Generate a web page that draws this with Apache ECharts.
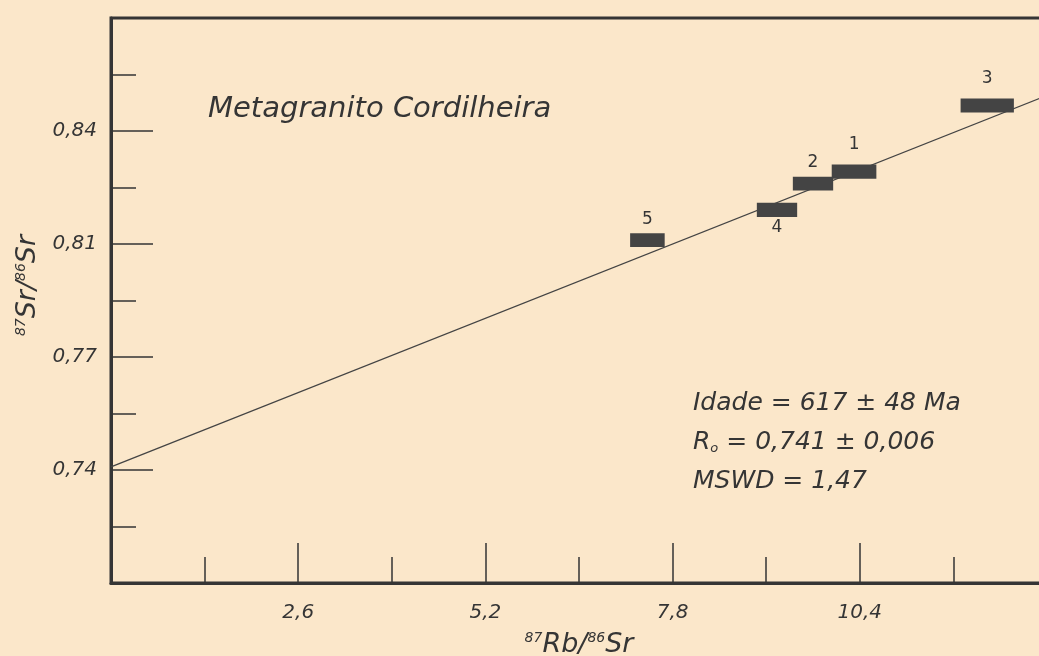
<!DOCTYPE html>
<html>
<head>
<meta charset="utf-8">
<title>Metagranito Cordilheira</title>
<script src="https://cdn.jsdelivr.net/npm/echarts@6/dist/echarts.min.js"></script>
<style>
html, body { margin: 0; padding: 0; background: #fbe7ca; }
#chart { width: 1039px; height: 656px; }
</style>
</head>
<body>
<div id="chart"></div>
<script>
// amostras (caixas de erro)
var amostras = ['1', '2', '3', '4', '5'];
var rbSr = [10.32, 9.75, 12.17, 9.25, 7.45];
var srSr = [0.8324, 0.8287, 0.8529, 0.8206, 0.8112];
var errRb = [0.31, 0.28, 0.37, 0.28, 0.24];
var errSr = [0.0022, 0.0021, 0.0022, 0.0022, 0.0021];
var rotuloAbaixo = ['4'];

// isócrona
var isocrona = [[0, 0.741], [13, 0.856]];

// marcas dos eixos
var xMaior = [2.6, 5.2, 7.8, 10.4, 13];
var xMenor = [1.3, 3.9, 6.5, 9.1, 11.7];
var xRotulos = ['2,6', '5,2', '7,8', '10,4'];
var yMaior = [0.74, 0.775, 0.81, 0.845];
var yMenor = [0.7225, 0.7575, 0.7925, 0.8275, 0.8625];
var yRotulos = ['0,74', '0,77', '0,81', '0,84'];

var fonte = '"DejaVu Sans", sans-serif';
var cor = '#353535';

function rotulo(lista, nomes) {
    return function (v) {
        for (var i = 0; i < lista.length; i++) {
            if (Math.abs(lista[i] - v) < 1e-6) return nomes[i] || '';
        }
        return '';
    };
}

var chart = echarts.init(document.getElementById('chart'));

var caixas = [];
for (var i = 0; i < amostras.length; i++) {
    caixas.push([rbSr[i], srSr[i], errRb[i], errSr[i], amostras[i]]);
}

// a moldura continua além da borda direita da imagem
var grade = { left: 111, top: 18, bottom: 73, right: -8, outerBoundsMode: 'none', containLabel: false };

var option = {
    backgroundColor: '#fbe7ca',
    animation: false,
    grid: [
        Object.assign({ show: true, borderColor: cor, borderWidth: 3 }, grade),
        Object.assign({}, grade)
    ],
    xAxis: [{
        gridIndex: 0, type: 'value', min: 0, max: 13,
        axisLine: { lineStyle: { color: cor, width: 3 } },
        axisTick: { inside: true, length: 26, customValues: xMenor, lineStyle: { color: cor, width: 1.5 } },
        axisLabel: { show: false },
        splitLine: { show: false }
    }, {
        gridIndex: 1, type: 'value', min: 0, max: 13,
        axisLine: { show: false },
        axisTick: { inside: true, length: 40, customValues: xMaior, lineStyle: { color: cor, width: 1.5 } },
        axisLabel: {
            customValues: xMaior.slice(0, 4), margin: 20,
            formatter: rotulo(xMaior, xRotulos),
            color: cor, fontFamily: fonte, fontStyle: 'italic', fontSize: 20
        },
        splitLine: { show: false },
        name: '{s|87}{t|Rb/}{s|86}{t|Sr}',
        nameLocation: 'middle', nameGap: 48,
        nameTextStyle: {
            rich: {
                t: { fontFamily: fonte, fontStyle: 'italic', fontSize: 27, color: cor },
                s: { fontFamily: fonte, fontStyle: 'italic', fontSize: 14, color: cor, verticalAlign: 'top', padding: [0, 0, 10, 0] }
            }
        }
    }],
    yAxis: [{
        gridIndex: 0, type: 'value', min: 0.705, max: 0.88,
        axisLine: { lineStyle: { color: cor, width: 3 } },
        axisTick: { inside: true, length: 25, customValues: yMenor, lineStyle: { color: cor, width: 1.5 } },
        axisLabel: { show: false },
        splitLine: { show: false }
    }, {
        gridIndex: 1, type: 'value', min: 0.705, max: 0.88,
        axisLine: { show: false },
        axisTick: { inside: true, length: 42, customValues: yMaior, lineStyle: { color: cor, width: 1.5 } },
        axisLabel: {
            customValues: yMaior, margin: 14,
            formatter: rotulo(yMaior, yRotulos),
            color: cor, fontFamily: fonte, fontStyle: 'italic', fontSize: 20
        },
        splitLine: { show: false },
        name: '{s|87}{t|Sr/}{s|86}{t|Sr}',
        nameLocation: 'middle', nameGap: 58, nameRotate: 90,
        nameTextStyle: {
            padding: [0, 0, 0, 30],
            rich: {
                t: { fontFamily: fonte, fontStyle: 'italic', fontSize: 27, color: cor },
                s: { fontFamily: fonte, fontStyle: 'italic', fontSize: 14, color: cor, verticalAlign: 'top', padding: [0, 0, 10, 0] }
            }
        }
    }],
    graphic: [{
        type: 'text', left: 208, top: 95,
        style: { text: 'Metagranito Cordilheira', font: 'italic 29px ' + fonte, fill: cor }
    }, {
        type: 'text', left: 693, top: 391,
        style: { text: 'Idade = 617 ± 48 Ma', font: 'italic 25px ' + fonte, fill: cor }
    }, {
        type: 'text', left: 693, top: 430,
        style: {
            text: '{a|R}{b|o}{a| = 0,741 ± 0,006}',
            rich: {
                a: { font: 'italic 25px ' + fonte, fill: cor },
                b: { font: 'italic 13px ' + fonte, fill: cor, verticalAlign: 'bottom', padding: [12, 0, 0, 0] }
            }
        }
    }, {
        type: 'text', left: 693, top: 469,
        style: { text: 'MSWD = 1,47', font: 'italic 25px ' + fonte, fill: cor }
    }],
    series: [{
        type: 'line', xAxisIndex: 0, yAxisIndex: 0,
        data: isocrona, symbol: 'none', clip: true,
        lineStyle: { color: '#444', width: 1.3 },
        z: 3
    }, {
        type: 'custom', xAxisIndex: 0, yAxisIndex: 0,
        data: caixas, z: 4,
        renderItem: function (params, api) {
            var x = api.value(0), y = api.value(1), dx = api.value(2), dy = api.value(3);
            var nome = caixas[params.dataIndex][4];
            var p1 = api.coord([x - dx, y + dy]);
            var p2 = api.coord([x + dx, y - dy]);
            var c = api.coord([x, y]);
            var abaixo = rotuloAbaixo.indexOf(nome) >= 0;
            var ty = abaixo ? p2[1] + 11 : p1[1] - (nome === '1' || nome === '3' ? 20 : 14);
            return {
                type: 'group',
                children: [{
                    type: 'rect',
                    shape: { x: p1[0], y: p1[1], width: p2[0] - p1[0], height: p2[1] - p1[1] },
                    style: { fill: '#444444' }
                }, {
                    type: 'text',
                    style: {
                        x: c[0], y: ty, text: nome, align: 'center', verticalAlign: 'middle',
                        font: '17px ' + fonte, fill: cor
                    }
                }]
            };
        }
    }]
};

chart.setOption(option);
</script>
</body>
</html>
